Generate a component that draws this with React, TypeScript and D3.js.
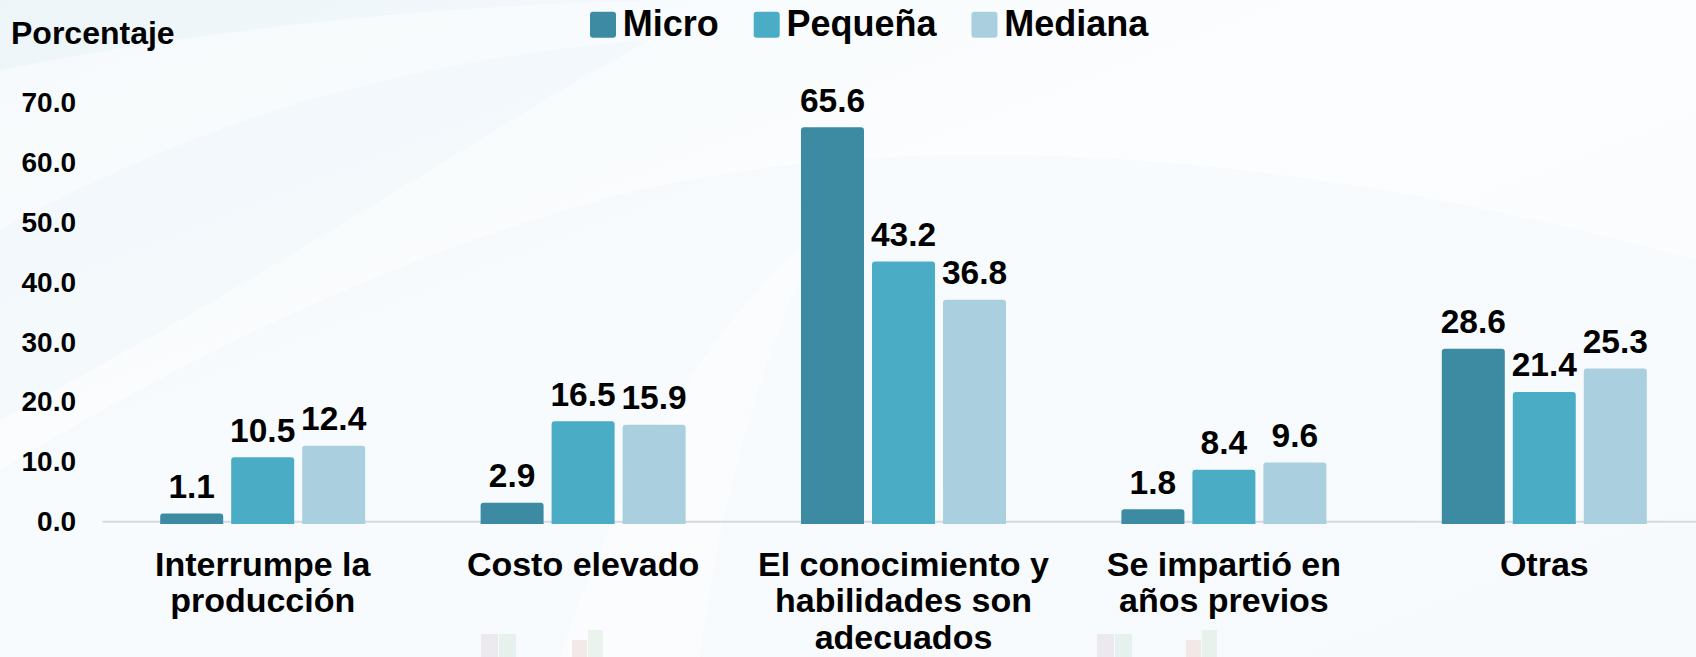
import React, { useMemo } from "react";
import * as d3 from "d3";

// ---------- data ----------
const categories = [
  "Interrumpe la producción",
  "Costo elevado",
  "El conocimiento y habilidades son adecuados",
  "Se impartió en años previos",
  "Otras",
];
const categoryLines = [
  ["Interrumpe la", "producción"],
  ["Costo elevado"],
  ["El conocimiento y", "habilidades son", "adecuados"],
  ["Se impartió en", "años previos"],
  ["Otras"],
];
const series = ["Micro", "Pequeña", "Mediana"];
const microValues = [1.1, 2.9, 65.6, 1.8, 28.6];
const pequenaValues = [10.5, 16.5, 43.2, 8.4, 21.4];
const medianaValues = [12.4, 15.9, 36.8, 9.6, 25.3];
const yTicks = [0, 10, 20, 30, 40, 50, 60, 70];
const seriesColors = ["#3D8BA3", "#4BACC6", "#AACFDE"];
const yAxisTitle = "Porcentaje";

const W = 1696;
const H = 657;
const FONT = "'Liberation Sans', Arial, Helvetica, sans-serif";

function measure(text: string, size: number): number {
  if (typeof document === "undefined") return text.length * size * 0.6;
  const c = document.createElement("canvas");
  const ctx = c.getContext("2d");
  if (!ctx) return text.length * size * 0.6;
  ctx.font = `bold ${size}px 'Liberation Sans', Arial, sans-serif`;
  return ctx.measureText(text).width;
}

function topRoundedBar(x: number, y: number, w: number, h: number, r: number) {
  const rr = Math.min(r, h / 2, w / 2);
  const p = d3.path();
  p.moveTo(x, y + h);
  p.lineTo(x, y + rr);
  p.quadraticCurveTo(x, y, x + rr, y);
  p.lineTo(x + w - rr, y);
  p.quadraticCurveTo(x + w, y, x + w, y + rr);
  p.lineTo(x + w, y + h);
  p.closePath();
  return p.toString();
}

export default function App() {
  const valuesBySeries = [microValues, pequenaValues, medianaValues];

  const x0 = d3.scaleBand<string>().domain(categories).range([102.5, 1704.5]).padding(0);
  const groupWidth = 205;
  const inset = (x0.bandwidth() - groupWidth) / 2;
  const x1 = d3
    .scaleBand<string>()
    .domain(series)
    .range([inset, inset + groupWidth])
    .paddingInner(0.1127)
    .paddingOuter(0);
  const y = d3.scaleLinear().domain([0, 70]).range([521, 102]);
  const barBottom = y(0) + 3;

  const color = d3.scaleOrdinal<string, string>().domain(series).range(seriesColors);

  const legendSize = 36;
  const legendItems = useMemo(() => {
    let cx = 590;
    return series.map((s) => {
      const item = { s, x: cx };
      cx += 26 + 6.7 + measure(s, legendSize) + 35;
      return item;
    });
  }, []);

  return (
    <div style={{ position: "absolute", left: 0, top: 0, width: W, height: H, overflow: "hidden" }}>
      <svg width={W} height={H} style={{ display: "block", fontFamily: FONT }}>
        <defs>
          <linearGradient id="bgGrad" x1="0" y1="0" x2="1" y2="1">
            <stop offset="0" stopColor="#EDF5F9" />
            <stop offset="0.4" stopColor="#F8FBFD" />
            <stop offset="1" stopColor="#F6FAFD" />
          </linearGradient>
        </defs>
        <rect x={0} y={0} width={W} height={H} fill="url(#bgGrad)" />
        {/* faint decorative swooshes */}
        <path d="M0,70 C250,20 520,0 700,0 L1696,0 L1696,260 C1300,150 900,120 600,200 C350,270 150,380 0,470 Z" fill="#FFFFFF" opacity={0.45} />
        <path d="M0,230 C200,120 400,60 650,40 C500,120 300,260 0,420 Z" fill="#EAF4F8" opacity={0.35} />
        <path d="M560,657 C620,480 700,330 820,230 C760,360 720,500 700,657 Z" fill="#FFFFFF" opacity={0.4} />

        {/* faint watermark marks at the bottom */}
        <g opacity={0.35}>
          <rect x={481} y={634} width={17} height={23} fill="#D8C8D8" />
          <rect x={499} y={634} width={17} height={23} fill="#C8E2D2" />
          <rect x={572} y={640} width={15} height={17} fill="#E8C8C0" />
          <rect x={588} y={630} width={15} height={27} fill="#CFE6D0" />
          <rect x={1097} y={634} width={17} height={23} fill="#D8C8D8" />
          <rect x={1115} y={634} width={17} height={23} fill="#C8E2D2" />
          <rect x={1186} y={640} width={15} height={17} fill="#E8C8C0" />
          <rect x={1202} y={630} width={15} height={27} fill="#CFE6D0" />
        </g>

        {/* axis title */}
        <text x={11} y={44} fontSize={32} fontWeight="bold" fill="#000">
          {yAxisTitle}
        </text>

        {/* legend */}
        {legendItems.map((it) => (
          <g key={it.s}>
            <rect x={it.x} y={11.7} width={26} height={26} rx={3} fill={color(it.s)} />
            <text x={it.x + 32.7} y={36} fontSize={legendSize} fontWeight="bold" fill="#000">
              {it.s}
            </text>
          </g>
        ))}

        {/* y tick labels */}
        {yTicks.map((t) => (
          <text key={t} x={76} y={y(t)} dy="0.36em" textAnchor="end" fontSize={28} fontWeight="bold" fill="#000">
            {d3.format(".1f")(t)}
          </text>
        ))}

        {/* baseline */}
        <line x1={102.5} x2={W} y1={y(0) + 0.7} y2={y(0) + 0.7} stroke="#D6D9DC" strokeWidth={2} />

        {/* bars */}
        {categories.map((cat, ci) => (
          <g key={cat} transform={`translate(${x0(cat)},0)`}>
            {series.map((s, si) => {
              const v = valuesBySeries[si][ci];
              const top = y(v) - 1;
              const bx = x1(s) as number;
              const bw = x1.bandwidth();
              return (
                <g key={s}>
                  <path d={topRoundedBar(bx, top, bw, barBottom - top, 3)} fill={color(s)} />
                  <text
                    x={bx + bw / 2}
                    y={top - 15.5}
                    textAnchor="middle"
                    fontSize={33.5}
                    fontWeight="bold"
                    fill="#000"
                  >
                    {d3.format(".1f")(v)}
                  </text>
                </g>
              );
            })}
          </g>
        ))}

        {/* category labels */}
        {categories.map((cat, ci) => (
          <text
            key={cat}
            x={(x0(cat) as number) + x0.bandwidth() / 2}
            y={575.7}
            textAnchor="middle"
            fontSize={34}
            fontWeight="bold"
            fill="#000"
          >
            {categoryLines[ci].map((line, li) => (
              <tspan key={li} x={(x0(cat) as number) + x0.bandwidth() / 2} dy={li === 0 ? 0 : 36.5}>
                {line}
              </tspan>
            ))}
          </text>
        ))}
      </svg>
    </div>
  );
}
